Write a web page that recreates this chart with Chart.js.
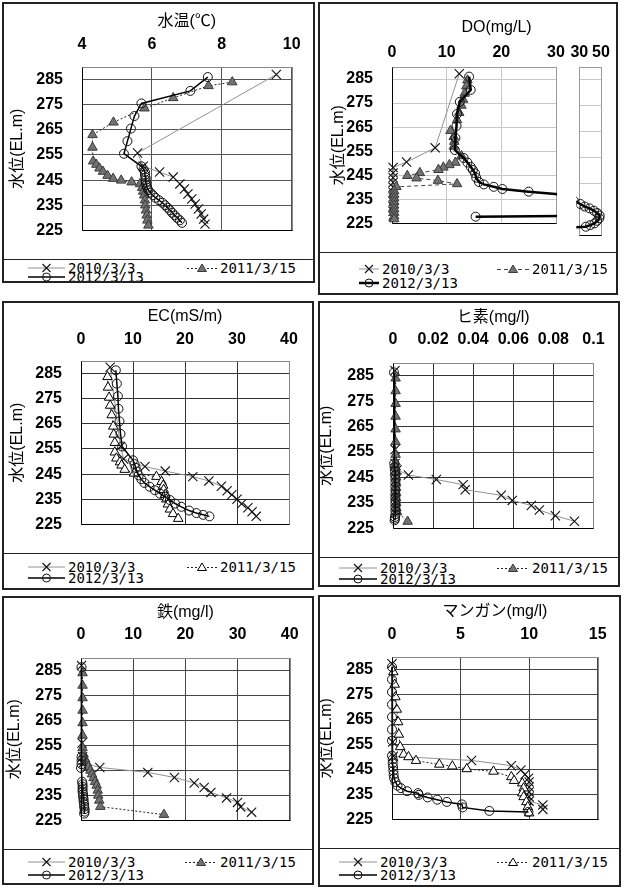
<!DOCTYPE html>
<html>
<head>
<meta charset="utf-8">
<script src="https://cdn.jsdelivr.net/npm/chart.js@4"></script>
<style>
html, body { margin: 0; padding: 0; background: #fff; }
body { width: 624px; height: 887px; position: relative; overflow: hidden;
  font-family: "DejaVu Sans Mono", "Noto Sans CJK JP", monospace; }
.panel { position: absolute; box-sizing: border-box; border: 2px solid #222; overflow: hidden; background: #fff; }
.panel canvas { position: absolute; }
.legend { position: absolute; left: 0; right: 0; border-top: 1px solid #222; }
.item { position: absolute; height: 14px; line-height: 14px; font-size: 14px; white-space: nowrap; color: #000; }
.item svg { position: absolute; left: 0; top: 0; }
</style>
</head>
<body>
<script>
// ---- data: [value, elevation(EL.m)] ----
const seriesLabels = ['2010/3/3', '2011/3/15', '2012/3/13'];
const depthTicks = [225, 235, 245, 255, 265, 275, 285];

// 水温
const wtTicks = [4, 6, 8, 10];
const wt2010 = [[9.56,287],[5.59,255.8],[5.75,250.5],[6.22,248.2],[6.61,246.2],[6.8,243.5],[6.93,241.5],[7.03,239.5],[7.14,237.5],[7.24,235.5],[7.33,233.5],[7.41,231.5],[7.48,229.5],[7.52,227.5]];
const wt2011 = [[8.3,284],[7.62,282.5],[6.61,277.7],[5.79,273.6],[4.9,268],[4.3,263],[4.3,258],[4.32,252.5],[4.41,251.2],[4.5,249.7],[4.6,248.4],[4.73,246.8],[4.89,245.6],[5.12,244.9],[5.42,244.2],[5.66,243.5],[5.72,242],[5.75,240.5],[5.78,239],[5.8,237],[5.81,235],[5.83,233],[5.85,231],[5.87,229],[5.9,227]];
const wt2012 = [[7.6,286],[7.1,280.5],[5.7,275.5],[5.5,270.5],[5.4,265.5],[5.3,260.5],[5.2,255.5],[5.7,250.5],[5.76,249.3],[5.8,248.2],[5.8,247],[5.82,246],[5.82,245],[5.83,244],[5.84,243],[5.86,242],[5.9,241],[5.96,240],[6.03,239],[6.1,238],[6.2,237],[6.3,236],[6.38,235],[6.45,234],[6.52,233],[6.58,232],[6.65,231],[6.72,230],[6.8,229],[6.86,228]];

// DO
const doTicks = [0, 10, 20, 30];
const doSideTicks = [30, 50];
const do2010 = [[12.3,287.2],[7.9,256.4],[2.65,250.5],[0.2,248.2],[0.2,246],[0.2,244],[0.2,242],[0.2,240],[0.2,238],[0.2,236],[0.2,234],[0.2,232],[0.2,230],[0.2,228]];
const do2011 = [[13.8,284.5],[13.6,282],[13.3,279],[13.0,276.5],[12.7,274],[12.3,271],[11.9,268],[10.7,263.5],[11.3,261],[11.4,259],[11.3,257],[12.7,253],[11.6,250.3],[10.5,249.3],[9.4,248.3],[8.5,247.3],[5.1,246],[2.8,244.8],[4.5,243.8],[8.4,242.8],[11.9,241.4],[0.8,240.2],[0.4,238.5],[0.4,237],[0.4,235.5],[0.4,234],[0.4,232.5],[0.4,231],[0.4,229.5],[0.4,228],[0.4,226.8]];
const do2012 = [[14.1,286],[14.4,280.5],[12.4,275.5],[11.9,270.5],[11.8,265.5],[11.6,260.5],[11.5,255.5],[13.1,252.2],[13.8,250.3],[14.4,248.5],[14.8,247.2],[15.2,245.8],[15.4,244],[15.9,242.2],[16.8,241.2],[18.6,240.2],[20.2,239.3],[25,238.2],[31,237],[35,236],[39.5,235.3],[43.5,234.4],[46.5,233.5],[48.8,232.5],[48.5,231.5],[46.5,230.5],[44,229.5],[40,228.8],[36,228.2],[15.3,227.8]];

// EC
const ecTicks = [0, 10, 20, 30, 40];
const ec2010 = [[5.6,287.5],[7.6,256],[8.2,251],[12.3,248],[16.2,246.2],[21.5,244],[24.6,242.3],[27,240.2],[28.1,238.4],[29,236.8],[30,235],[30.9,233.2],[32.1,231.6],[32.9,230],[33.7,228.2]];
const ec2011 = [[5.1,283.7],[5.2,279.5],[5.4,275.5],[5.6,272.3],[5.9,268.5],[6.2,264],[6.3,260.8],[6.5,257.5],[6.5,253.7],[6.8,251.3],[7.5,249.8],[7.8,248.5],[8.4,246.8],[10.2,245.3],[14.5,244],[15.5,242],[15.8,240.5],[15.9,238.8],[16.2,236.8],[16.4,235],[16.7,233],[17.1,231],[17.7,229.2],[18.7,227.3]];
const ec2012 = [[6.7,286.3],[6.9,281],[7.1,276],[7.2,271],[7.4,266],[7.6,261],[7.9,256],[10,250.5],[10.3,249],[10.5,247.5],[10.8,246],[11.1,244.5],[11.6,243],[12.2,241.5],[13.2,240],[14.2,238.6],[15.2,237.2],[16.2,236],[17.1,234.7],[18.1,233.3],[19.3,232],[20.8,230.5],[22.2,229.5],[23.5,228.8],[24.7,228.2]];

// ヒ素
const asTicks = [0, 0.02, 0.04, 0.06, 0.08, 0.1];
const as2010 = [[0.001,287],[0.001,256],[0.001,250.5],[0.002,248],[0.0077,246],[0.0216,244.2],[0.035,242.2],[0.036,240.2],[0.054,238],[0.0595,236],[0.069,234],[0.073,232.2],[0.081,230],[0.0905,227.8]];
const as2011 = [[0.0013,284],[0.0013,279],[0.0013,274],[0.0013,269],[0.0013,264],[0.0013,259],[0.0013,254],[0.0013,251],[0.0014,249],[0.0014,247],[0.0015,245],[0.0015,243],[0.0015,241],[0.0015,239],[0.0015,237],[0.0016,235],[0.0017,233],[0.002,231.5],[0.0073,227.7]];
const as2012 = [[0.0005,286.3],[0.0006,250.5],[0.0008,249],[0.001,247.5],[0.001,246],[0.0012,244.5],[0.0012,243],[0.0012,241.5],[0.0012,240],[0.0012,238.5],[0.0012,237.2],[0.0012,236],[0.0012,234.7],[0.0012,233.3],[0.0012,232],[0.0012,230.5],[0.001,229.5],[0.001,228.8],[0.0008,228.2]];

// 鉄
const feTicks = [0, 10, 20, 30, 40];
const fe2010 = [[0.1,287],[0.2,256],[0.3,250.5],[0.4,248],[3.6,246.2],[12.8,244.2],[17.9,242.2],[21.7,240],[23.6,238.2],[24.9,236.2],[27.9,234],[30,232.2],[30.6,230.4],[32.7,228.3]];
const fe2011 = [[0.3,284],[0.3,279],[0.3,274],[0.3,269],[0.3,264],[0.3,259],[0.3,254],[0.5,251.5],[0.8,249.5],[1.1,248],[1.4,246.5],[1.8,245],[2.1,243.5],[2.4,242],[2.7,240.5],[3,239],[3.2,237],[3.3,235],[3.5,233],[3.7,230.5],[15.9,227.3]];
const fe2012 = [[0.1,286.3],[0.1,250.5],[0.1,249],[0.1,247.5],[0,246],[0.2,240.5],[0.3,239.5],[0.3,238.5],[0.3,237.5],[0.3,236.5],[0.4,235.5],[0.4,234.5],[0.5,233.5],[0.5,232.5],[0.6,231.5],[0.6,230.5],[0.7,229.5],[0.7,228.5],[0.6,227.7]];

// マンガン
const mnTicks = [0, 5, 10, 15];
const mn2010 = [[0,287.3],[0.05,256],[0.1,250.3],[5.8,248.6],[8.7,246.5],[9.4,244.8],[9.7,243],[9.95,241.5],[10,240],[10,238],[10,236],[10,234],[10,232.3],[11,230.8],[11,229]];
const mn2011 = [[0.1,284],[0.2,279],[0.25,274],[0.35,269],[0.45,264],[0.5,259],[0.6,254],[0.85,251],[1.2,250],[1.75,248.5],[3.45,247],[4.4,246.3],[5.45,245.2],[7.4,244.2],[8.7,242],[8.9,240.5],[9.5,239.5],[9.6,237.5],[9.5,235.5],[9.6,234],[9.8,232],[9.9,230],[10,227.5]];
const mn2012 = [[0,286],[0,281],[0,276],[0,271],[0,266],[0,261],[0,256.5],[0,250.5],[0.05,249],[0.05,247.5],[0.08,246],[0.1,244.5],[0.12,243],[0.15,241.5],[0.25,240],[0.4,238.5],[0.65,237.5],[1.1,236.3],[1.9,235.5],[1.95,234.8],[2.6,233.8],[3.3,232.9],[4,232],[5.1,231],[5.15,229.8],[7.1,228.4],[9.95,228]];

// ---- drawing ----
Chart.defaults.animation = false;
Chart.defaults.font.family = '"Liberation Sans", "Noto Sans CJK JP", sans-serif';
Chart.defaults.color = '#000';

const B = 2; // panel border
const TICK_FONT = { size: 16, weight: 'bold', lineHeight: 1.2 };
const TITLE_FONT = { size: 16, lineHeight: 1.2 };
const YTITLE_FONT = { size: 16, lineHeight: 1 };

const framePlugin = {
  id: 'frame',
  beforeDatasetsDraw(chart, args, o) {
    const a = chart.chartArea, ctx = chart.ctx;
    const l = Math.round(a.left) + 0.5, t = Math.round(a.top) + 0.5, b = Math.round(a.bottom) + 0.5;
    const r = (o.endValue != null ? Math.round(chart.scales.x.getPixelForValue(o.endValue)) : Math.round(a.right)) + 0.5;
    ctx.save();
    ctx.lineWidth = 1;
    ctx.strokeStyle = o.color || '#888';
    ctx.strokeRect(l, t, r - l, b - t);
    ctx.strokeStyle = '#000';
    ctx.beginPath();
    if (o.leftBlack === false) ctx.moveTo(l, b);
    else { ctx.moveTo(l, t); ctx.lineTo(l, b); }
    ctx.lineTo(r, b);
    ctx.stroke();
    ctx.restore();
  },
  afterDatasetsDraw(chart, args, o) {
    // hide what lies past the axis break
    if (o.endValue == null) return;
    const a = chart.chartArea, ctx = chart.ctx;
    const r = Math.round(chart.scales.x.getPixelForValue(o.endValue)) + 1;
    ctx.save();
    ctx.fillStyle = '#fff';
    ctx.fillRect(r, a.top - 1, a.right - r + 12, a.bottom - a.top + 3);
    ctx.restore();
  }
};

function series(i, data, st) {
  const base = {
    label: seriesLabels[i],
    data: data.map(p => ({ x: p[0], y: p[1] })),
    showLine: true,
    clip: st.clip != null ? st.clip : 8
  };
  if (i === 0) Object.assign(base, {
    borderColor: '#929292', borderWidth: 1, pointStyle: 'crossRot', pointRadius: 6.5,
    pointBorderColor: '#111', pointBackgroundColor: '#111', pointBorderWidth: 1.1, order: 2
  });
  if (i === 1) Object.assign(base, {
    borderColor: st.dashColor || '#222', borderWidth: 1, borderDash: st.dash || [2, 2],
    pointStyle: 'triangle', pointRadius: 5.5, pointBorderWidth: 1,
    pointBorderColor: st.openTri ? '#000' : '#3a3a3a',
    pointBackgroundColor: st.openTri ? '#fff' : '#727272', order: 1
  });
  if (i === 2) Object.assign(base, {
    borderColor: '#000', borderWidth: st.thick || 1.5, pointStyle: 'circle', pointRadius: 4.5,
    pointBorderColor: '#111', pointBorderWidth: 1, pointBackgroundColor: 'rgba(255,255,255,0)', order: 0
  });
  return base;
}

function makeChart(canvas, c) {
  const [cl, ct, cw, ch] = c.canvasRect;
  const [pl, pt, pr, pb] = c.plot;
  const tickLH = TICK_FONT.size * 1.2;
  const titleLH = TITLE_FONT.size * 1.2;
  const yTitleLH = YTITLE_FONT.size * 1;
  return new Chart(canvas, {
    type: 'scatter',
    data: { datasets: c.datasets },
    plugins: [framePlugin],
    options: {
      responsive: false,
      animation: false,
      layout: { padding: { left: 0, top: 0, right: cl + cw - pr, bottom: ct + ch - pb } },
      plugins: {
        legend: { display: false },
        tooltip: { enabled: false },
        frame: { color: c.frameColor, endValue: c.endValue, leftBlack: c.leftBlack }
      },
      scales: {
        x: {
          type: 'linear', position: 'top', min: c.xMin, max: c.xMax,
          afterBuildTicks: s => { s.ticks = c.xTicks.map(v => ({ value: v })); },
          afterFit: s => { s.height = pt - ct; },
          ticks: { autoSkip: false, maxRotation: 0, minRotation: 0, font: TICK_FONT,
            padding: (pt - c.tickY) - tickLH / 2, callback: v => String(v) },
          grid: { color: c.gridColor, drawTicks: false },
          border: { display: false },
          title: { display: !!c.title, text: c.title, font: TITLE_FONT,
            padding: { top: c.titleY - ct - titleLH / 2, bottom: 0 } }
        },
        y: {
          type: 'linear', position: 'left', min: 225, max: 290,
          afterBuildTicks: s => { s.ticks = depthTicks.map(v => ({ value: v })); },
          afterFit: s => { s.width = pl - cl; },
          ticks: { display: c.showY !== false, autoSkip: false, font: TICK_FONT, padding: 19,
            callback: v => String(v) },
          grid: { color: c.gridColor, drawTicks: false },
          border: { display: false },
          title: { display: c.showY !== false, text: '水位(EL.m)', font: YTITLE_FONT,
            padding: { top: (c.yTitleX || 0) - cl - yTitleLH / 2, bottom: 0 } }
        }
      }
    }
  });
}

function addCanvas(div, box, left, top, w, h) {
  const cv = document.createElement('canvas');
  cv.width = w; cv.height = h;
  cv.style.left = (left - box[0] - B) + 'px';
  cv.style.top = (top - box[1] - B) + 'px';
  cv.style.width = w + 'px'; cv.style.height = h + 'px';
  div.appendChild(cv);
  return cv;
}

function symbolSvg(i, w, st) {
  const m = w / 2;
  if (i === 0) {
    return `<svg width="${w}" height="14"><line x1="0" y1="7" x2="${w}" y2="7" stroke="#929292" stroke-width="1"/>` +
      `<path d="M${m - 4},3 L${m + 4},11 M${m + 4},3 L${m - 4},11" stroke="#111" stroke-width="1.1" fill="none"/></svg>`;
  }
  if (i === 1) {
    const dash = st.dash ? st.dash.join(',') : '2,2';
    const fill = st.openTri ? '#fff' : '#727272';
    const stroke = st.openTri ? '#000' : '#3a3a3a';
    return `<svg width="${w}" height="14"><line x1="0" y1="7.5" x2="${w}" y2="7.5" stroke="${st.dashColor || '#222'}" stroke-width="1" stroke-dasharray="${dash}"/>` +
      `<path d="M${m - 4.5},10.5 L${m + 4.5},10.5 L${m},3 Z" fill="${fill}" stroke="${stroke}" stroke-width="1"/></svg>`;
  }
  return `<svg width="${w}" height="14"><line x1="0" y1="7" x2="${w}" y2="7" stroke="#000" stroke-width="${st.thick || 1.5}"/>` +
    `<circle cx="${m}" cy="7" r="4" fill="none" stroke="#111" stroke-width="1"/></svg>`;
}

function buildPanel(p) {
  const box = p.box;
  const div = document.createElement('div');
  div.className = 'panel';
  div.style.left = box[0] + 'px'; div.style.top = box[1] + 'px';
  div.style.width = box[2] + 'px'; div.style.height = box[3] + 'px';
  document.body.appendChild(div);

  const cl = box[0] + B, ct = box[1] + B;
  const cw = box[2] - 2 * B, ch = p.legendTop - ct;
  const datasets = p.data.map((d, i) => series(i, d, p.style));
  const plotRight = p.sidePlot ? p.sidePlot[1] : p.plot[2];
  const xMax = p.sidePlot
    ? p.xTicks[p.xTicks.length - 1] * (plotRight - p.plot[0]) / (p.plot[2] - p.plot[0])
    : p.xTicks[p.xTicks.length - 1];
  if (p.sidePlot) datasets[2].clip = { left: 8, top: 8, right: 0, bottom: 8 };

  makeChart(addCanvas(div, box, cl, ct, cw, ch), {
    canvasRect: [cl, ct, cw, ch],
    plot: [p.plot[0], p.plot[1], plotRight, p.plot[3]],
    datasets, xMin: p.xTicks[0], xMax, xTicks: p.xTicks,
    title: p.title, titleY: p.titleY, tickY: p.tickY, yTitleX: p.yTitleX,
    gridColor: p.gridColor, frameColor: p.frameColor,
    endValue: p.sidePlot ? p.xTicks[p.xTicks.length - 1] : null
  });

  if (p.sidePlot) {
    const sl = p.sideCanvasLeft, sw = cl + cw - sl;
    const sideSets = p.data.map((d, i) => series(i, d, p.style)).slice(2);
    sideSets[0].clip = { left: 3, top: 8, right: 8, bottom: 8 };
    makeChart(addCanvas(div, box, sl, ct, sw, ch), {
      canvasRect: [sl, ct, sw, ch],
      plot: [p.sidePlot[0], p.plot[1], p.sidePlot[1], p.plot[3]],
      datasets: sideSets, xMin: p.sideTicks[0], xMax: p.sideTicks[p.sideTicks.length - 1], xTicks: p.sideTicks,
      title: '', titleY: p.titleY, tickY: p.tickY, showY: false,
      gridColor: p.gridColor, frameColor: '#999', leftBlack: false
    });
  }

  const lg = document.createElement('div');
  lg.className = 'legend';
  lg.style.top = (p.legendTop - ct) + 'px';
  lg.style.bottom = '0px';
  div.appendChild(lg);
  const L = p.legend;
  const items = [[L.sym1, L.rows[0]], [L.sym2, L.rows[0]], [L.sym1, L.rows[1]]];
  items.forEach(([sym, row], i) => {
    const it = document.createElement('div');
    it.className = 'item';
    it.style.left = (sym[0] - B) + 'px';
    it.style.top = (row - 7 - 1) + 'px';
    it.innerHTML = symbolSvg(i, sym[1], p.style) +
      `<span style="position:absolute;left:${sym[1] + 3}px;top:0">${seriesLabels[i]}</span>`;
    lg.appendChild(it);
  });
}

const panels = [
  { title: '水温(℃)', box: [2, 2, 313, 281], legendTop: 259, plot: [82, 67, 293, 236],
    titleY: 22, tickY: 45, yTitleX: 18, xTicks: wtTicks, gridColor: '#555', frameColor: '#888',
    data: [wt2010, wt2011, wt2012], style: {},
    legend: { rows: [9, 18], sym1: [26, 37], sym2: [185, 30] } },
  { title: 'DO(mg/L)', box: [318, 2, 300, 293], legendTop: 252, plot: [392, 67, 556, 235],
    sidePlot: [578, 601], sideCanvasLeft: 566, sideTicks: doSideTicks,
    titleY: 28, tickY: 53, yTitleX: 339, xTicks: doTicks, gridColor: '#c8c8c8', frameColor: '#999',
    data: [do2010, do2011, do2012], style: { dash: [4, 3], dashColor: '#444', thick: 2.5 },
    legend: { rows: [17, 31], sym1: [41, 20], sym2: [179, 32] } },
  { title: 'EC(mS/m)', box: [2, 301, 312, 289], legendTop: 553, plot: [81, 361, 289, 529],
    titleY: 317, tickY: 340, yTitleX: 18, xTicks: ecTicks, gridColor: '#333', frameColor: '#888',
    data: [ec2010, ec2011, ec2012], style: { openTri: true },
    legend: { rows: [14, 25], sym1: [26, 37], sym2: [185, 30] } },
  { title: 'ヒ素(mg/l)', box: [318, 301, 302, 286], legendTop: 557, plot: [393, 363, 597, 531],
    titleY: 318, tickY: 340, yTitleX: 327, xTicks: asTicks, gridColor: '#333', frameColor: '#888',
    data: [as2010, as2011, as2012], style: {},
    legend: { rows: [11, 22], sym1: [21, 38], sym2: [179, 32] } },
  { title: '鉄(mg/l)', box: [2, 596, 312, 289], legendTop: 849, plot: [81, 658, 290, 826],
    titleY: 613, tickY: 635, yTitleX: 15, xTicks: feTicks, gridColor: '#444', frameColor: '#888',
    data: [fe2010, fe2011, fe2012], style: {},
    legend: { rows: [13, 26], sym1: [26, 37], sym2: [183, 32] } },
  { title: 'マンガン(mg/l)', box: [318, 595, 303, 292], legendTop: 848, plot: [392, 657, 603, 824],
    titleY: 612, tickY: 635, yTitleX: 327, xTicks: mnTicks, gridColor: '#444', frameColor: '#888',
    data: [mn2010, mn2011, mn2012], style: { openTri: true },
    legend: { rows: [14, 27], sym1: [21, 38], sym2: [179, 32] } }
];

panels.forEach(buildPanel);
</script>
</body>
</html>
